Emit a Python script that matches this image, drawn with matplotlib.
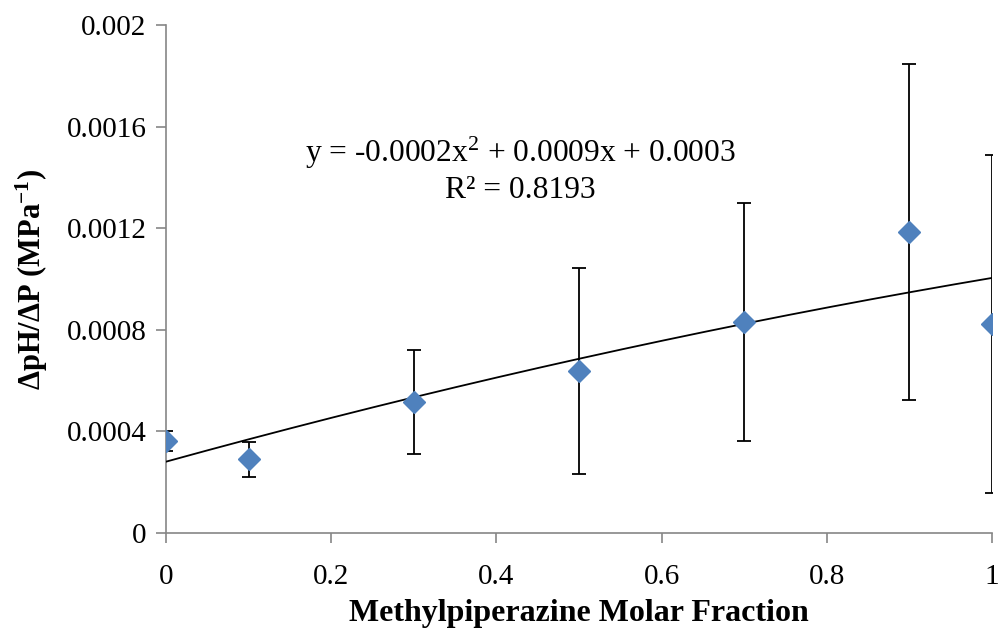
import numpy as np
import matplotlib
matplotlib.use('Agg')
import matplotlib.pyplot as plt

# data
fraction = [0.0, 0.1, 0.3, 0.5, 0.7, 0.9, 1.0]
dph_dp = [0.000362, 0.000291, 0.000516, 0.000638, 0.000831, 0.001185, 0.000823]
err = [0.00004, 0.000069, 0.000205, 0.000405, 0.000470, 0.000660, 0.000666]

plt.rcParams['font.family'] = ['Liberation Serif', 'DejaVu Serif']
plt.rcParams['mathtext.fontset'] = 'custom'
plt.rcParams['mathtext.rm'] = 'Liberation Serif'
plt.rcParams['mathtext.bf'] = 'Liberation Serif:bold'
plt.rcParams['mathtext.it'] = 'Liberation Serif:italic'

fig = plt.figure(figsize=(10, 6.32), dpi=100)
ax = fig.add_axes([0.166, 0.1566, 0.826, 0.8038])

grey = '#868686'

ax.errorbar(fraction, dph_dp, yerr=err, fmt='none', ecolor='black',
            elinewidth=1.3, capsize=5, capthick=1.3, zorder=2)
ax.plot(fraction, dph_dp, linestyle='none', marker='D', markersize=11,
        color='#4F81BD', zorder=4)

# 2nd order polynomial trendline
coef = np.polyfit(fraction, dph_dp, 2)
xs = np.linspace(0, 1, 200)
ax.plot(xs, np.polyval(coef, xs), color='black', linewidth=1.3, zorder=3)

ax.text(0.4286, 0.001496, 'y = -0.0002x$^{\\mathrm{2}}$ + 0.0009x + 0.0003',
        ha='center', va='center', fontsize=22.7)
ax.text(0.4286, 0.00135, 'R² = 0.8193', ha='center', va='center', fontsize=22.7)

ax.set_xlim(0, 1)
ax.set_ylim(0, 0.002)
ax.set_xticks([0, 0.2, 0.4, 0.6, 0.8, 1])
ax.set_xticklabels(['0', '0.2', '0.4', '0.6', '0.8', '1'])
ax.set_yticks([0, 0.0004, 0.0008, 0.0012, 0.0016, 0.002])
ax.set_yticklabels(['0', '0.0004', '0.0008', '0.0012', '0.0016', '0.002'])

for s in ['top', 'right']:
    ax.spines[s].set_visible(False)
for s in ['left', 'bottom']:
    ax.spines[s].set_color(grey)
    ax.spines[s].set_linewidth(1.2)
ax.tick_params(colors=grey, labelcolor='black', labelsize=21, width=1.2,
               length=7, direction='out')
ax.tick_params(axis='x', pad=15)
ax.tick_params(axis='y', pad=7)

ax.set_xlabel('Methylpiperazine Molar Fraction', fontsize=23, fontweight='bold',
              labelpad=7)
ax.set_ylabel('ΔpH/ΔP (MPa$^{\\mathbf{-1}}$)', fontsize=22, fontweight='bold',
              labelpad=12)

fig.savefig('out.png', dpi=100)
